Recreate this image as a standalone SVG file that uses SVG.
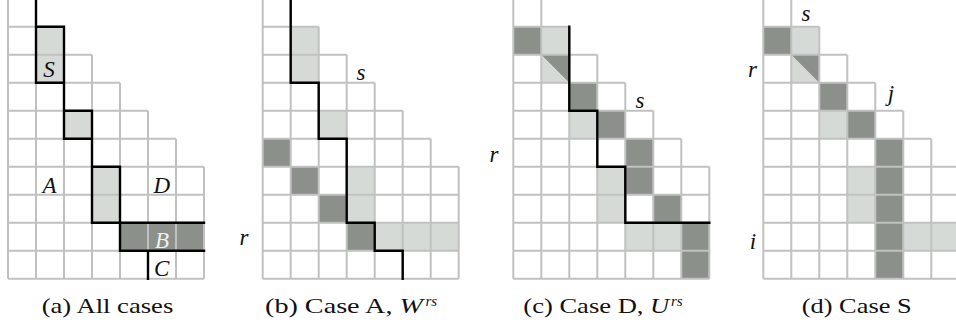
<svg xmlns="http://www.w3.org/2000/svg" xmlns:xlink="http://www.w3.org/1999/xlink" width="956" height="324" viewBox="0 0 956 324">
<style>
.grid{fill:none;stroke:#c1c1c1;stroke-width:2}
.lt{fill:#d5dad6}
.dk{fill:#8b908b}
.bl{fill:none;stroke:#000;stroke-width:2.4;stroke-linecap:square}
.lab{font-family:"Liberation Serif",serif;font-style:italic;font-size:23px;fill:#111;text-anchor:middle}
.cap{font-family:"Liberation Serif",serif;font-size:21px;fill:#111}
.sup{font-family:"Liberation Serif",serif;font-style:italic;font-size:15px;fill:#111}
</style>
<defs>
<path id="grid" d="M0 0V280M28 0V280M56 28V280M84 56V280M112 84V280M140 112V280M168 140V280M196 168V280M0 0H28M0 28H56M0 56H84M0 84H112M0 112H140M0 140H168M0 168H196M0 196H196M0 224H196M0 252H196M0 280H196"/>
</defs>
<rect width="956" height="324" fill="#fff"/>

<g id="panel-a">
<g transform="translate(8,-1.3)">
<rect class="lt" x="28" y="28" width="28" height="56"/>
<rect class="lt" x="56" y="112" width="28" height="28"/>
<rect class="lt" x="84" y="168" width="28" height="56"/>
<rect class="dk" x="112" y="224" width="84" height="28"/>
<use href="#grid" class="grid"/>
<path class="bl" d="M28 -5V84H56M28 28H56V140H84M56 112H84V224H196M84 168H112V252H196M140 252V280"/>
</g>
<text class="lab" x="49" y="76.5">S</text>
<text class="lab" x="49.5" y="192.7">A</text>
<text class="lab" x="161.7" y="192.7">D</text>
<text class="lab" x="162" y="248.3" style="fill:#eef1ee">B</text>
<text class="lab" x="161.7" y="276">C</text>
<text class="cap" x="41.7" y="313.3" textLength="131.6" lengthAdjust="spacingAndGlyphs">(a) All cases</text>
</g>

<g id="panel-b">
<g transform="translate(262.7,-1.3)">
<rect class="lt" x="28" y="28" width="28" height="56"/>
<rect class="lt" x="56" y="112" width="28" height="28"/>
<rect class="lt" x="84" y="168" width="28" height="56"/>
<rect class="lt" x="112" y="224" width="84" height="28"/>
<rect class="dk" x="0" y="140" width="28" height="28"/>
<rect class="dk" x="28" y="168" width="28" height="28"/>
<rect class="dk" x="56" y="196" width="28" height="28"/>
<rect class="dk" x="84" y="224" width="28" height="28"/>
<use href="#grid" class="grid"/>
<path class="bl" d="M28 -5V84H56V140H84V224H112V252H140V280"/>
</g>
<text class="lab" x="361" y="80">s</text>
<text class="lab" x="244" y="245">r</text>
<text class="cap" x="265" y="313.3" textLength="158" lengthAdjust="spacingAndGlyphs">(b) Case A, <tspan font-style="italic">W</tspan></text>
<text class="sup" x="425.5" y="306">rs</text>
</g>

<g id="panel-c">
<g transform="translate(513.3,-1.3)">
<rect class="lt" x="28" y="28" width="28" height="56"/>
<rect class="lt" x="56" y="112" width="28" height="28"/>
<rect class="lt" x="84" y="168" width="28" height="56"/>
<rect class="lt" x="112" y="224" width="56" height="28"/>
<rect class="dk" x="0" y="28" width="28" height="28"/>
<polygon class="dk" points="28,56 56,56 56,84"/>
<rect class="dk" x="56" y="84" width="28" height="28"/>
<rect class="dk" x="84" y="112" width="28" height="28"/>
<rect class="dk" x="112" y="140" width="28" height="56"/>
<rect class="dk" x="140" y="196" width="28" height="28"/>
<rect class="dk" x="168" y="224" width="28" height="56"/>
<use href="#grid" class="grid"/>
<path class="bl" d="M56 28V112H84V168H112V224H196"/>
</g>
<text class="lab" x="640" y="108">s</text>
<text class="lab" x="494" y="161.7">r</text>
<text class="cap" x="523.3" y="313.3" textLength="146" lengthAdjust="spacingAndGlyphs">(c) Case D, <tspan font-style="italic">U</tspan></text>
<text class="sup" x="671" y="306">rs</text>
</g>

<g id="panel-d">
<g transform="translate(763.3,-1.3)">
<rect class="lt" x="28" y="28" width="28" height="56"/>
<rect class="lt" x="56" y="112" width="28" height="28"/>
<rect class="lt" x="84" y="168" width="28" height="56"/>
<rect class="lt" x="140" y="224" width="56" height="28"/>
<rect class="dk" x="0" y="28" width="28" height="28"/>
<polygon class="dk" points="28,56 56,56 56,84"/>
<rect class="dk" x="56" y="84" width="28" height="28"/>
<rect class="dk" x="84" y="112" width="28" height="28"/>
<rect class="dk" x="112" y="140" width="28" height="140"/>
<use href="#grid" class="grid"/>
</g>
<text class="lab" x="806" y="20.7">s</text>
<text class="lab" x="752.5" y="76.7">r</text>
<text class="lab" x="891" y="100.5">j</text>
<text class="lab" x="753" y="249">i</text>
<text class="cap" x="801.7" y="313.3" textLength="110" lengthAdjust="spacingAndGlyphs">(d) Case S</text>
</g>
</svg>
